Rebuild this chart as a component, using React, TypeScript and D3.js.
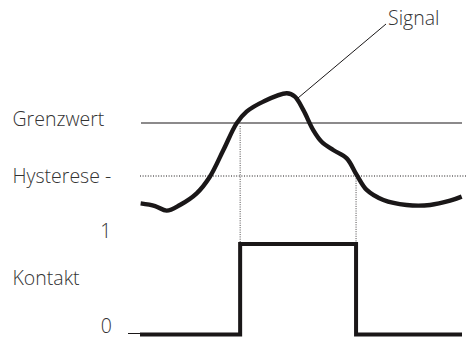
import React from "react";
import * as d3 from "d3";

// Signal curve samples (time 0..100, signal level)
const signalTime = [0.2, 4.7, 8.3, 12.4, 17.6, 21.7, 25.9, 30.0, 33.1, 38.3, 45.6, 48.1, 50.7, 53.8, 56.4, 60.0, 64.2, 67.3, 70.4, 75.6, 82.8, 90.1, 96.3, 99.9];
const signalValue = [2.45, 2.3, 2.04, 2.36, 3.02, 3.96, 5.47, 6.98, 7.64, 8.21, 8.68, 8.49, 7.74, 6.6, 5.94, 5.47, 5.0, 4.06, 3.21, 2.64, 2.36, 2.36, 2.6, 2.83];

// Thresholds
const limitValue = 7; // Grenzwert
const hysteresisValue = 4; // Hysterese

// Contact state (step)
const contactTime = [0, 31.1, 31.1, 67.1, 67.1, 100];
const contactState = [0, 0, 1, 1, 0, 0];

const labels = { limit: "Grenzwert", hyst: "Hysterese -", one: "1", contact: "Kontakt", zero: "0", signal: "Signal" };

export default function App() {
  const x = d3.scaleLinear().domain([0, 100]).range([140, 462]);
  const ySig = d3.scaleLinear().domain([hysteresisValue, limitValue]).range([176, 123]);
  const yCon = d3.scaleLinear().domain([0, 1]).range([334.5, 244]);

  const sigData = signalTime.map((t, i) => [t, signalValue[i]] as [number, number]);
  const sigLine = d3.line<[number, number]>()
    .x((d) => x(d[0]))
    .y((d) => ySig(d[1]))
    .curve(d3.curveCatmullRom.alpha(0.5));

  const conData = contactTime.map((t, i) => [t, contactState[i]] as [number, number]);
  const conLine = d3.line<[number, number]>().x((d) => x(d[0])).y((d) => yCon(d[1]));

  const tOn = contactTime[1];
  const tOff = contactTime[3];
  const font = { fontFamily: "'Open Sans', sans-serif", fontSize: 19.5, fontWeight: 300, fill: "#333" } as const;
  const ink = "#1a1718";

  return (
    <svg width={468} height={339} style={{ position: "absolute", left: 0, top: 0, background: "#fff" }}>
      {/* threshold lines */}
      <line x1={141} x2={462} y1={ySig(limitValue)} y2={ySig(limitValue)} stroke={ink} strokeWidth={1.1} />
      <line x1={140} x2={466} y1={ySig(hysteresisValue)} y2={ySig(hysteresisValue)} stroke={ink} strokeWidth={1} strokeDasharray="1,1.6" />
      {/* dotted projections */}
      <line x1={x(tOn)} x2={x(tOn)} y1={ySig(limitValue) + 3} y2={yCon(1)} stroke={ink} strokeWidth={0.8} strokeDasharray="1,1.3" />
      <line x1={x(tOff)} x2={x(tOff)} y1={ySig(hysteresisValue)} y2={yCon(1)} stroke={ink} strokeWidth={0.8} strokeDasharray="1,1.3" />
      {/* signal */}
      <path d={sigLine(sigData) || ""} fill="none" stroke={ink} strokeWidth={4.4} strokeLinecap="butt" />
      {/* contact */}
      <line x1={128} x2={141} y1={yCon(0) - 1} y2={yCon(0) - 1} stroke={ink} strokeWidth={1} />
      <path d={conLine(conData) || ""} fill="none" stroke={ink} strokeWidth={4} strokeLinejoin="miter" />
      {/* leader */}
      <line x1={386} y1={24} x2={298} y2={98} stroke={ink} strokeWidth={1} />
      {/* labels */}
      <text x={12.5} y={126} {...font}>{labels.limit}</text>
      <text x={12.5} y={183} {...font}>{labels.hyst}</text>
      <text x={111.5} y={238} textAnchor="end" {...font}>{labels.one}</text>
      <text x={12.5} y={285} {...font}>{labels.contact}</text>
      <text x={112} y={333} textAnchor="end" {...font}>{labels.zero}</text>
      <text x={388} y={25} {...font}>{labels.signal}</text>
    </svg>
  );
}
